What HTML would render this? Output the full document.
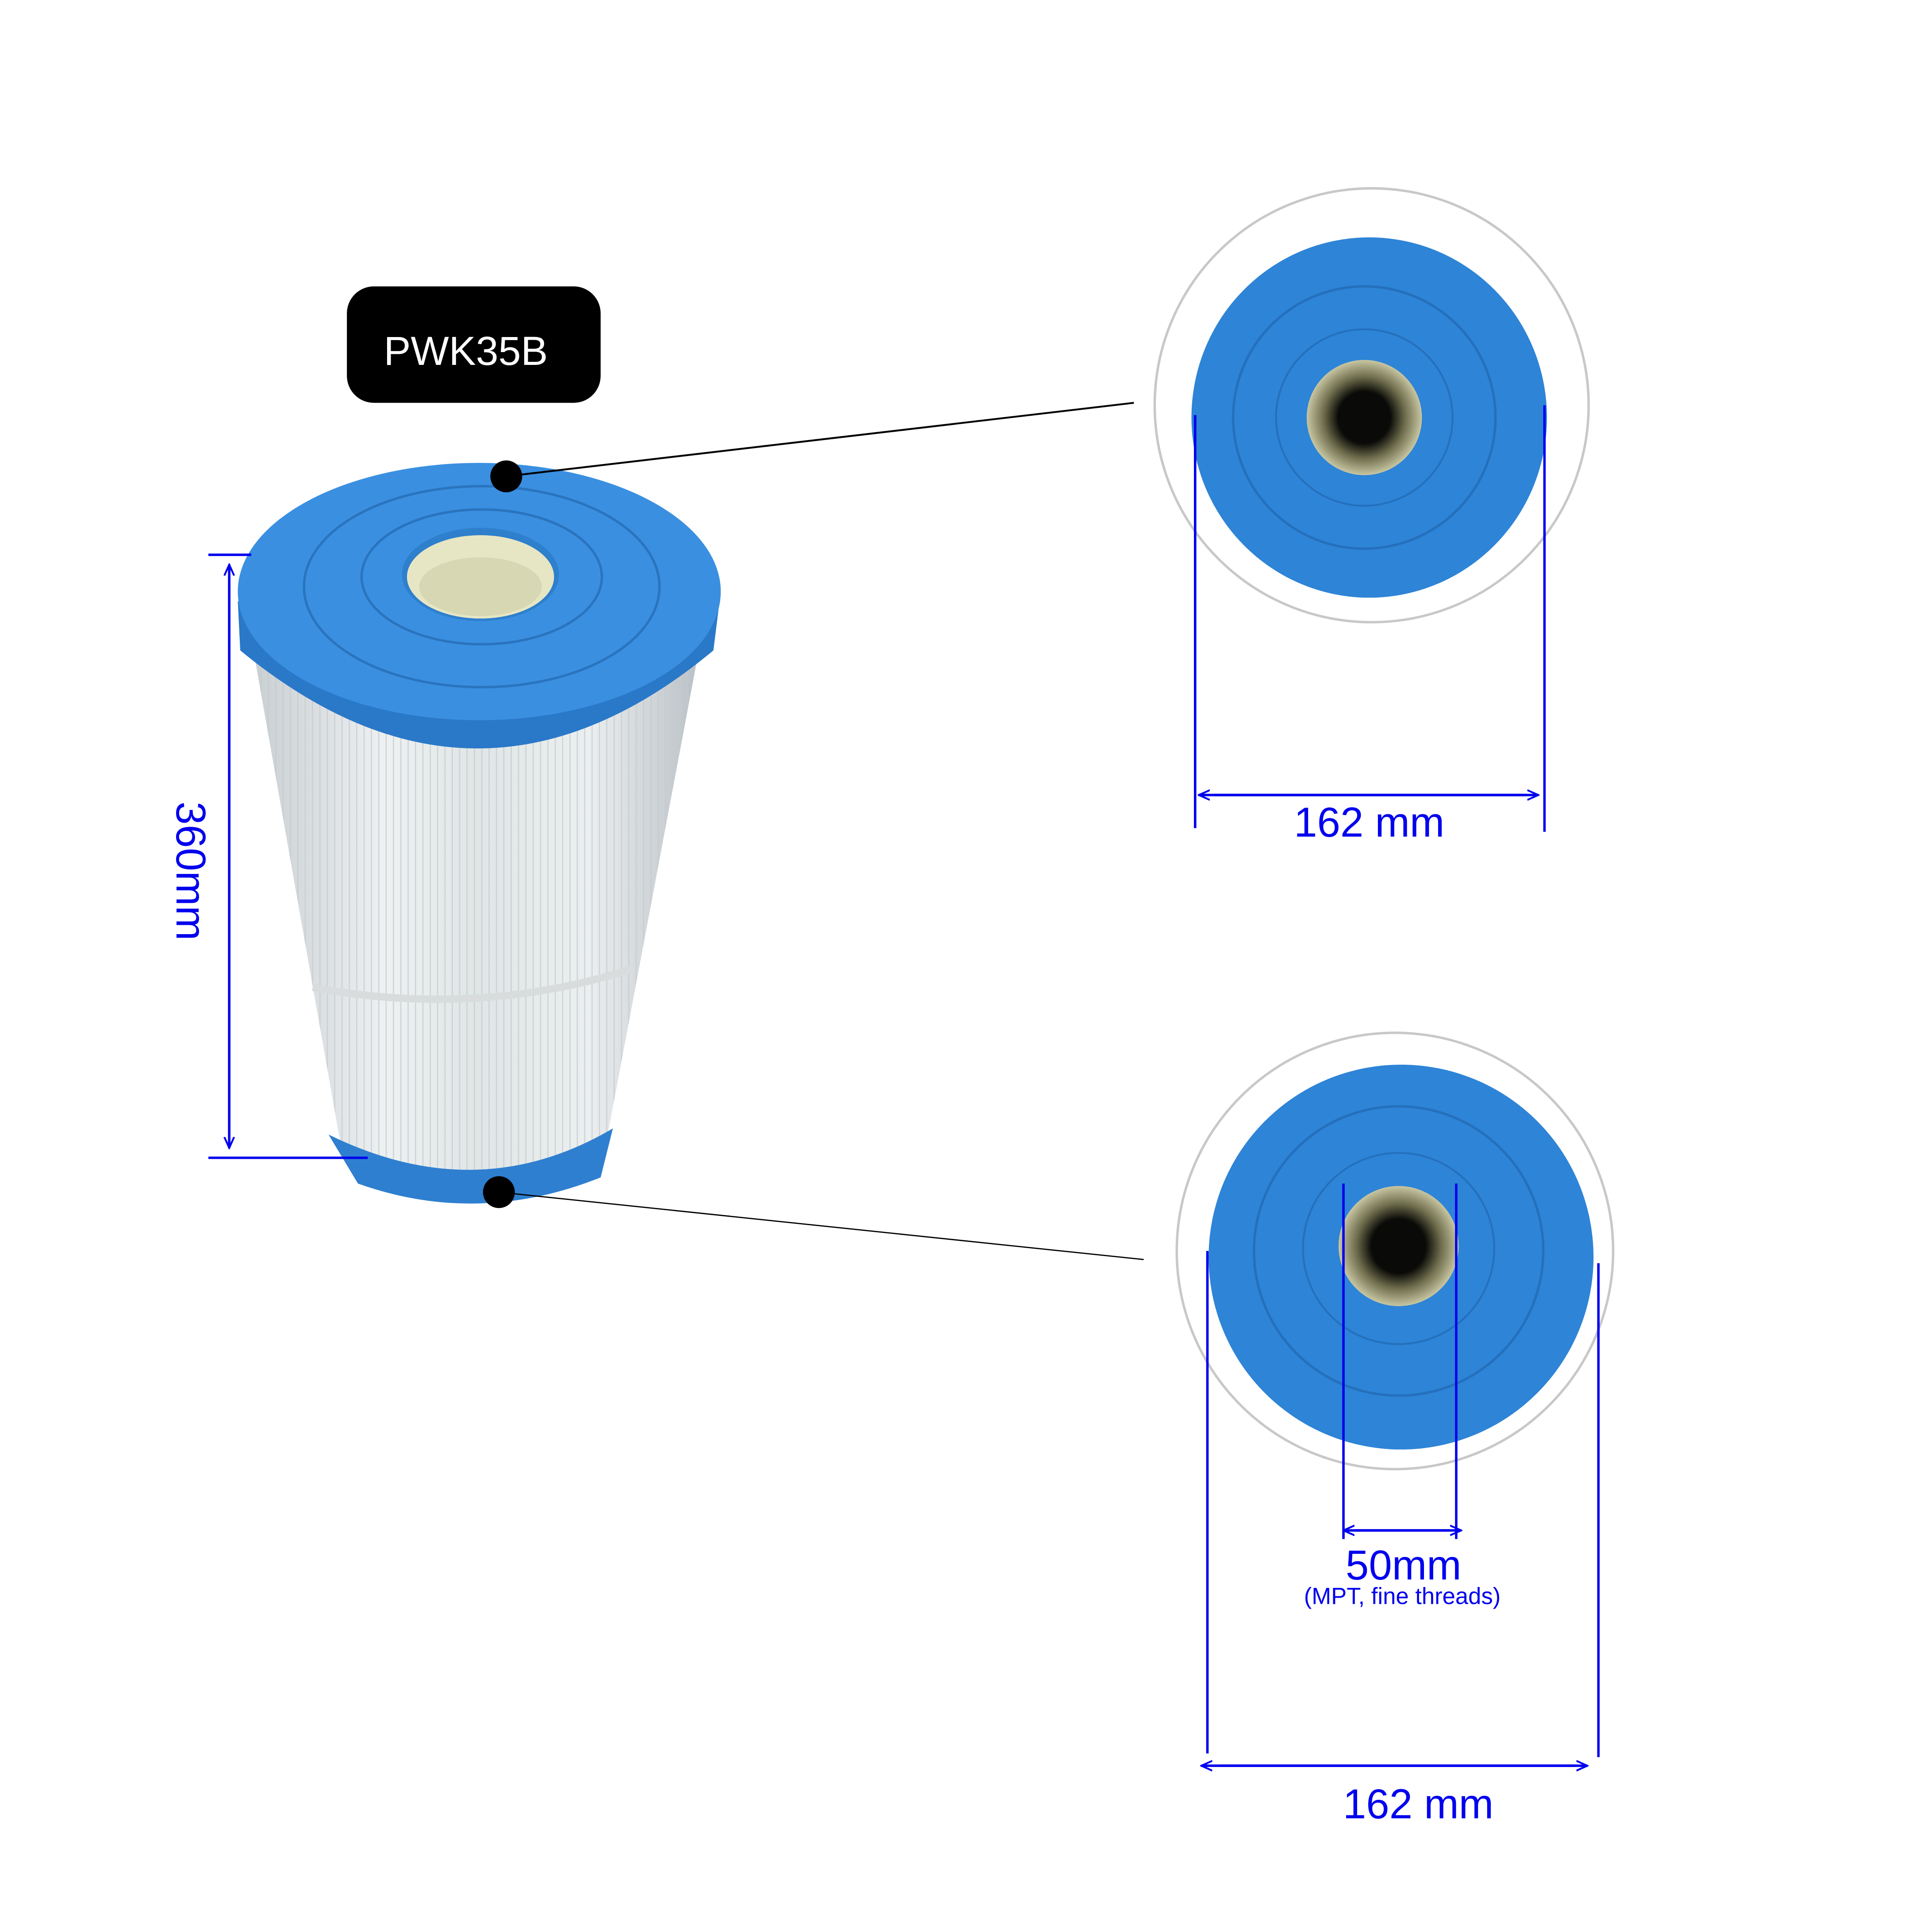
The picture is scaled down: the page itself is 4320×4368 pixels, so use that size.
<!DOCTYPE html>
<html><head><meta charset="utf-8"><style>
html,body{margin:0;padding:0;background:#fff;}
svg{display:block;}
text{font-family:"Liberation Sans","DejaVu Sans",sans-serif;}
</style></head><body>
<svg width="4320" height="4368" viewBox="0 0 1559 1575" xmlns="http://www.w3.org/2000/svg">
<defs>
<linearGradient id="body" x1="0" x2="1" y1="0" y2="0">
<stop offset="0" stop-color="#c9ced2"/><stop offset="0.3" stop-color="#eef1f2"/><stop offset="0.5" stop-color="#dfe6e6"/><stop offset="0.75" stop-color="#eceff0"/><stop offset="1" stop-color="#b9c0c5"/>
</linearGradient>
<pattern id="pleat" width="6" height="10" patternUnits="userSpaceOnUse"><line x1="3" y1="0" x2="3" y2="10" stroke="#c4cacd" stroke-width="1"/></pattern>
<radialGradient id="hole" cx="0.5" cy="0.5" r="0.5"><stop offset="0.45" stop-color="#0a0a08"/><stop offset="0.7" stop-color="#6b6a4a"/><stop offset="1" stop-color="#c8c6a2"/></radialGradient>
<marker id="ar" markerWidth="10" markerHeight="10" refX="9" refY="5" orient="auto" markerUnits="userSpaceOnUse"><path d="M0,1 L9,5 L0,9" fill="none" stroke="#0000ee" stroke-width="1.5"/></marker>
</defs>

<rect x="283" y="233" width="207" height="95" rx="22" fill="#000"/>
<text x="380" y="297" font-size="33" fill="#fff" text-anchor="middle">PWK35B</text>

<!-- body -->
<path d="M205,520 L572,520 L492,945 Q390,995 280,945 Z" fill="url(#body)"/>
<path d="M205,520 L572,520 L492,945 Q390,995 280,945 Z" fill="url(#pleat)" opacity="0.7"/>
<path d="M255,805 Q390,830 515,790" stroke="#d8dcdd" stroke-width="6" fill="none"/>
<path d="M268,925 Q390,985 500,920 L490,960 Q390,1000 292,965 Z" fill="#2f7fd0"/>
<!-- cap -->
<path d="M194,490 L196,530 Q390,690 582,530 L587,490 Z" fill="#2a78c8"/>
<ellipse cx="391" cy="482" rx="197" ry="105" fill="#3a8fe0"/>
<ellipse cx="393" cy="478" rx="145" ry="82" fill="none" stroke="#2a74bf" stroke-width="2"/>
<ellipse cx="393" cy="470" rx="98" ry="55" fill="none" stroke="#2a74bf" stroke-width="2"/>
<ellipse cx="392" cy="468" rx="64" ry="38" fill="#2e7fcc"/>
<ellipse cx="392" cy="470" rx="60" ry="34" fill="#e6e6c4"/>
<ellipse cx="392" cy="478" rx="50" ry="24" fill="#d8d7b4"/>

<line x1="413" y1="388" x2="925" y2="328" stroke="#000" stroke-width="1.5"/>
<line x1="407" y1="972" x2="933" y2="1027" stroke="#000" stroke-width="1"/>
<circle cx="413" cy="388" r="13" fill="#000"/>
<circle cx="407" cy="972" r="13" fill="#000"/>

<line x1="170" y1="452" x2="205" y2="452" stroke="#0000ee" stroke-width="2"/>
<line x1="170" y1="944" x2="300" y2="944" stroke="#0000ee" stroke-width="2"/>
<line x1="187" y1="470" x2="187" y2="936" stroke="#0000ee" stroke-width="2" marker-end="url(#ar)"/>
<line x1="187" y1="936" x2="187" y2="460" stroke="#0000ee" stroke-width="2" marker-end="url(#ar)"/>
<text transform="translate(144,710) rotate(90)" font-size="34" fill="#0000ee" text-anchor="middle">360mm</text>

<circle cx="1119" cy="330" r="177" fill="#fff" stroke="#c8c8c8" stroke-width="2"/>
<ellipse cx="1117" cy="340" rx="145" ry="147" fill="#2e84d6"/>
<circle cx="1113" cy="340" r="107" fill="none" stroke="#2470bd" stroke-width="2"/>
<circle cx="1113" cy="340" r="72" fill="none" stroke="#2470bd" stroke-width="1.5"/>
<circle cx="1113" cy="340" r="47" fill="url(#hole)"/>
<line x1="975" y1="338" x2="975" y2="675" stroke="#0000ee" stroke-width="2"/>
<line x1="1260" y1="330" x2="1260" y2="678" stroke="#0000ee" stroke-width="2"/>
<line x1="990" y1="648" x2="1255" y2="648" stroke="#0000ee" stroke-width="2" marker-end="url(#ar)"/>
<line x1="1245" y1="648" x2="978" y2="648" stroke="#0000ee" stroke-width="2" marker-end="url(#ar)"/>
<text x="1117" y="682" font-size="34" fill="#0000ee" text-anchor="middle">162 mm</text>

<circle cx="1138" cy="1020" r="178" fill="#fff" stroke="#c8c8c8" stroke-width="2"/>
<circle cx="1143" cy="1025" r="157" fill="#2e84d6"/>
<circle cx="1141" cy="1020" r="118" fill="none" stroke="#2470bd" stroke-width="2"/>
<circle cx="1141" cy="1018" r="78" fill="none" stroke="#2470bd" stroke-width="1.5"/>
<circle cx="1141" cy="1016" r="49" fill="url(#hole)"/>
<line x1="985" y1="1020" x2="985" y2="1430" stroke="#0000ee" stroke-width="2"/>
<line x1="1304" y1="1030" x2="1304" y2="1433" stroke="#0000ee" stroke-width="2"/>
<line x1="995" y1="1440" x2="1295" y2="1440" stroke="#0000ee" stroke-width="2" marker-end="url(#ar)"/>
<line x1="1285" y1="1440" x2="980" y2="1440" stroke="#0000ee" stroke-width="2" marker-end="url(#ar)"/>
<text x="1157" y="1483" font-size="34" fill="#0000ee" text-anchor="middle">162 mm</text>
<line x1="1096" y1="965" x2="1096" y2="1255" stroke="#0000ee" stroke-width="2"/>
<line x1="1188" y1="965" x2="1188" y2="1255" stroke="#0000ee" stroke-width="2"/>
<line x1="1105" y1="1248" x2="1192" y2="1248" stroke="#0000ee" stroke-width="2" marker-end="url(#ar)"/>
<line x1="1183" y1="1248" x2="1096" y2="1248" stroke="#0000ee" stroke-width="2" marker-end="url(#ar)"/>
<text x="1145" y="1288" font-size="34" fill="#0000ee" text-anchor="middle">50mm</text>
<text x="1144" y="1308" font-size="19" fill="#0000ee" text-anchor="middle">(MPT, fine threads)</text>
</svg>
</body></html>
